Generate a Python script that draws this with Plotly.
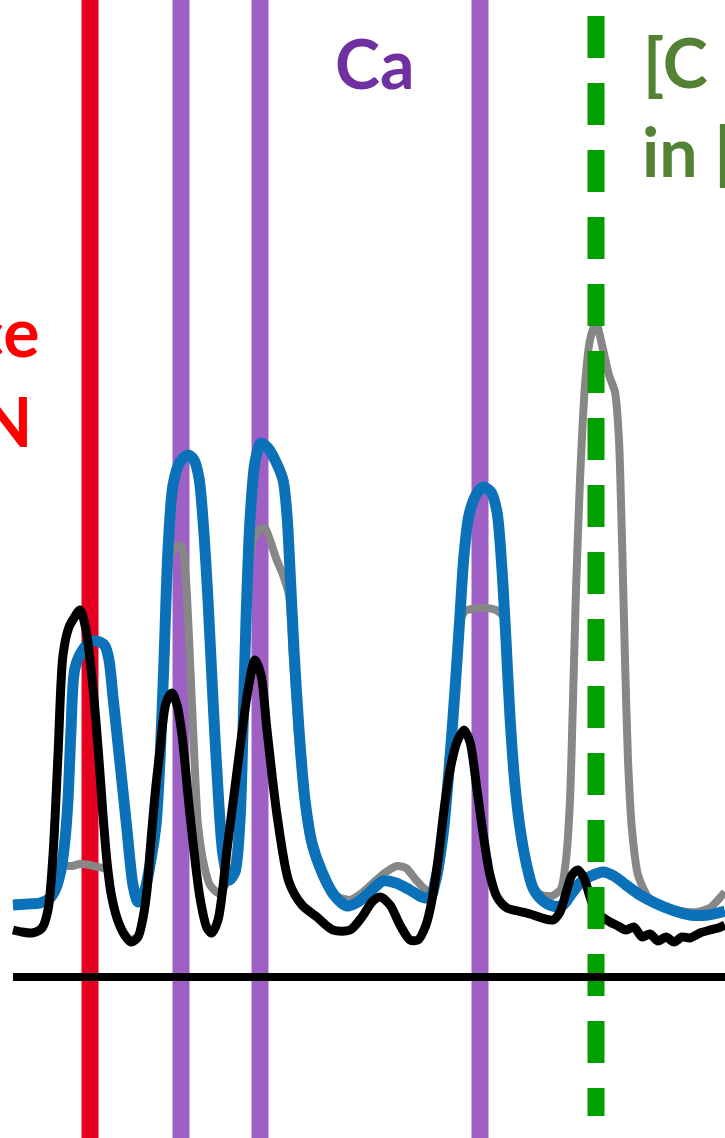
import plotly.graph_objects as go

# Spectra sampled on a shared channel scale (intensity in arbitrary counts)
gray_x = [13, 28, 40, 50, 56, 61, 65, 72, 80, 90, 98, 103, 107, 111, 117,
          124, 131, 138, 143, 147, 152, 156, 160, 164, 167, 171, 177, 182, 186, 190,
          194, 198, 204, 210, 218, 226, 233, 239, 243, 246, 249, 253, 259, 265, 270,
          276, 283, 289, 293, 298, 304, 311, 321, 333, 350, 362, 374, 386, 397, 406,
          416, 426, 433, 438, 443, 449, 455, 460, 465, 472, 483, 496, 503, 506, 510,
          515, 520, 526, 533, 542, 552, 561, 566, 570, 573, 576, 580, 585, 590, 596,
          602, 609, 615, 619, 622, 625, 628, 632, 638, 648, 662, 680, 697, 710, 718,
          725]
gray_y = [72, 73, 74, 79, 89, 107, 111, 111, 113, 112, 110, 109, 107, 82, 58,
          43, 37, 41, 60, 87, 127, 152, 217, 315, 397, 422, 431, 430, 397, 317,
          227, 152, 112, 92, 84, 93, 107, 155, 242, 347, 407, 437, 447, 449, 437,
          419, 402, 382, 317, 242, 177, 132, 103, 82, 77, 84, 95, 105, 111, 109,
          97, 87, 86, 99, 135, 202, 282, 355, 366, 368, 369, 367, 361, 327, 257,
          189, 146, 112, 87, 82, 81, 88, 117, 177, 277, 387, 497, 592, 637, 655,
          632, 602, 585, 537, 437, 317, 217, 147, 102, 80, 71, 66, 65, 69, 77,
          85]

blue_x = [13, 28, 40, 50, 56, 61, 65, 68, 71, 75, 84, 92, 100, 105, 109,
          113, 120, 127, 133, 138, 144, 150, 156, 160, 164, 168, 173, 180, 188, 194,
          199, 203, 208, 213, 218, 223, 229, 235, 240, 243, 246, 250, 255, 261, 268,
          276, 283, 287, 290, 294, 299, 305, 312, 322, 334, 347, 358, 370, 383, 396,
          410, 422, 430, 436, 443, 449, 455, 460, 464, 469, 476, 483, 491, 497, 502,
          506, 510, 515, 520, 526, 533, 542, 553, 563, 572, 581, 591, 603, 614, 626,
          640, 655, 672, 690, 708, 725]
blue_y = [72, 73, 74, 79, 89, 107, 137, 177, 247, 309, 329, 336, 335, 331, 317,
          280, 214, 147, 92, 75, 84, 112, 152, 217, 317, 427, 492, 515, 522, 517,
          499, 457, 377, 277, 187, 122, 97, 105, 157, 247, 357, 457, 515, 534, 529,
          515, 497, 462, 407, 327, 247, 177, 134, 105, 82, 71, 75, 85, 96, 94,
          87, 80, 79, 99, 142, 207, 287, 362, 422, 462, 482, 490, 485, 465, 407,
          337, 260, 192, 149, 115, 89, 77, 71, 72, 84, 95, 101, 105, 101, 92,
          82, 74, 67, 62, 62, 66]

black_x = [13, 22, 32, 42, 48, 53, 58, 63, 69, 74, 80, 86, 93, 99, 103,
           107, 111, 117, 124, 131, 138, 143, 147, 150, 155, 160, 166, 172, 177, 182,
           190, 200, 207, 212, 218, 222, 227, 234, 240, 248, 255, 261, 267, 277, 289,
           302, 317, 333, 350, 362, 372, 380, 390, 400, 410, 418, 426, 432, 438, 444,
           450, 457, 464, 470, 477, 483, 490, 497, 507, 518, 530, 542, 553, 560, 566,
           572, 578, 584, 590, 596, 602, 610, 618, 626, 634, 642, 650, 658, 666, 674,
           682, 690, 700, 710, 718, 725]
black_y = [47, 45, 44, 49, 67, 122, 222, 322, 350, 359, 367, 347, 289, 217, 162,
           115, 84, 59, 43, 35, 40, 59, 87, 125, 182, 227, 274, 284, 272, 242,
           162, 79, 49, 44, 57, 82, 127, 182, 229, 287, 317, 302, 247, 162, 95,
           72, 60, 47, 47, 60, 75, 80, 72, 52, 37, 37, 52, 77, 117, 167,
           207, 235, 247, 235, 187, 144, 102, 80, 69, 66, 63, 59, 57, 65, 84,
           102, 107, 99, 80, 65, 60, 55, 51, 47, 50, 40, 43, 36, 40, 35,
           40, 39, 44, 47, 49, 52]

# Reference line positions on the channel scale
red_lines = [90]
ca_lines = [181, 260, 480]
green_lines = [596]

X_RANGE = [0, 725]
Y_RANGE = [-161, 977]

fig = go.Figure()
for xs, ys, color, width, smooth in [
    (gray_x, gray_y, "#878787", 8, 0.6),
    (blue_x, blue_y, "#0B72B9", 11, 0.8),
    (black_x, black_y, "#000000", 9, 0.8),
]:
    fig.add_trace(go.Scatter(
        x=xs, y=ys, mode="lines",
        line=dict(color=color, width=width, shape="spline", smoothing=smooth),
        showlegend=False, hoverinfo="skip",
    ))

shapes = []
for xv in red_lines:
    shapes.append(dict(type="line", xref="x", yref="paper", x0=xv, x1=xv, y0=0, y1=1,
                       line=dict(color="#E60020", width=17), layer="below"))
for xv in ca_lines:
    shapes.append(dict(type="line", xref="x", yref="paper", x0=xv, x1=xv, y0=0, y1=1,
                       line=dict(color="#9E60C4", width=17), layer="below"))
for xv in green_lines:
    shapes.append(dict(type="line", xref="x", yref="paper", x0=xv, x1=xv,
                       y0=1 - 16 / 1138, y1=1 - 1116 / 1138,
                       line=dict(color="#00A000", width=17, dash="42px,25px"),
                       layer="above"))
# zero-intensity baseline
shapes.append(dict(type="line", xref="x", yref="y", x0=min(black_x), x1=X_RANGE[1],
                   y0=0, y1=0, line=dict(color="#000000", width=8), layer="above"))

font_family = "Lato"
annotations = [
    dict(text="<b>ce</b>", x=40, y=605, xanchor="right", yanchor="bottom",
         font=dict(color="#FF0000", size=68, family=font_family)),
    dict(text="<b>N</b>", x=33, y=515, xanchor="right", yanchor="bottom",
         font=dict(color="#FF0000", size=68, family=font_family)),
    dict(text="<b>Ca</b>", x=334, y=873, xanchor="left", yanchor="bottom",
         font=dict(color="#7030A0", size=68, family=font_family)),
    dict(text="<b>[C</b>", x=642, y=874, xanchor="left", yanchor="bottom",
         font=dict(color="#548235", size=68, family=font_family)),
    dict(text="<b>in [</b>", x=641, y=785, xanchor="left", yanchor="bottom",
         font=dict(color="#548235", size=68, family=font_family)),
]
for a in annotations:
    a.update(xref="x", yref="y", showarrow=False, borderpad=0)

fig.update_layout(
    width=725, height=1138,
    margin=dict(l=0, r=0, t=0, b=0),
    paper_bgcolor="white", plot_bgcolor="white",
    xaxis=dict(range=X_RANGE, visible=False, fixedrange=True),
    yaxis=dict(range=Y_RANGE, visible=False, fixedrange=True),
    shapes=shapes, annotations=annotations,
)

fig.write_html("out.html")
